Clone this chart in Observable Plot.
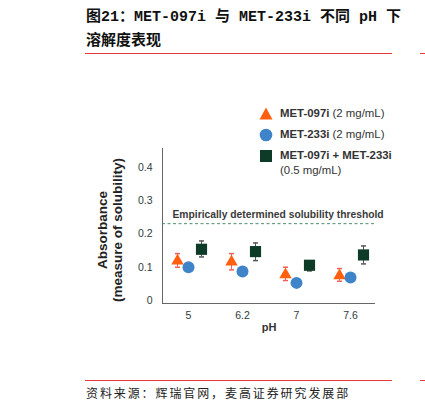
<!DOCTYPE html>
<html>
<head>
<meta charset="utf-8">
<script src="https://cdn.jsdelivr.net/npm/d3@7"></script>
<script src="https://cdn.jsdelivr.net/npm/@observablehq/plot@0.6"></script>
<style>
  body { margin: 0; background: #fff; }
  #page { position: relative; width: 425px; height: 411px; overflow: hidden; font-family: "Liberation Sans", Arial, sans-serif; }
  .title { position: absolute; left: 86px; top: 6px; width: 320px; font-family: "Liberation Mono", "Noto Sans CJK SC", monospace; font-weight: bold; font-size: 15px; line-height: 24px; color: #111; white-space: nowrap; }
  .rule { position: absolute; height: 1px; background: #e8393e; }
  .caption { position: absolute; left: 86px; top: 384px; font-family: "Noto Sans CJK SC", sans-serif; font-size: 12px; letter-spacing: 1.9px; color: #222; white-space: nowrap; }
  #chart { position: absolute; left: 0; top: 100px; }
  .legend { position: absolute; left: 258px; top: 104px; font-size: 11.4px; color: #333; }
  .legend .row { position: relative; height: 21px; line-height: 18px; padding-left: 22px; white-space: nowrap; }
  .legend b { color: #333; }
  .sym { position: absolute; left: 1px; top: 3px; }
</style>
</head>
<body>
<div id="page">
  <div class="title">图21：MET-097i 与 MET-233i 不同 pH 下<br>溶解度表现</div>
  <div class="rule" style="left:85px; top:53px; width:307px;"></div>
  <div class="rule" style="left:420px; top:53px; width:10px;"></div>
  <div id="chart"></div>
  <div class="legend" id="legend"></div>
  <div class="rule" style="left:85px; top:380px; width:307px;"></div>
  <div class="rule" style="left:420px; top:380px; width:10px;"></div>
  <div class="caption">资料来源：辉瑞官网，麦高证券研究发展部</div>
</div>
<script>
const phLevels = ["5", "6.2", "7", "7.6"]
const met097 = [0.119, 0.116, 0.078, 0.075]
const met097Low = [0.100, 0.092, 0.060, 0.058]
const met097High = [0.141, 0.141, 0.100, 0.096]
const met233 = [0.100, 0.087, 0.053, 0.069]
const combo = [0.154, 0.147, 0.106, 0.137]
const comboLow = [0.131, 0.120, 0.089, 0.110]
const comboHigh = [0.179, 0.173, 0.112, 0.164]
const threshold = 0.231
const yTicks = [0, 0.1, 0.2, 0.3, 0.4]

const orange = '#ff5f0f'
const blue = '#3f84c9'
const green = '#0d3b27'

const triRows = phLevels.map((ph, i) => ({ph, v: met097[i], lo: met097Low[i], hi: met097High[i]}))
const circRows = phLevels.map((ph, i) => ({ph, v: met233[i]}))
const sqRows = phLevels.map((ph, i) => ({ph, v: combo[i], lo: comboLow[i], hi: comboHigh[i]}))

// short horizontal cap for the error bars
const cap = {draw(ctx, size) { ctx.moveTo(-2.5, 0); ctx.lineTo(2.5, 0) }}

const dTri = -11, dCirc = 0, dSq = 13

let chart = Plot.plot({
  width: 425,
  height: 240,
  marginLeft: 162,
  marginRight: 50,
  marginTop: 48,
  marginBottom: 37,
  style: {fontFamily: '"Liberation Sans", Arial, sans-serif', fontSize: '10.5px', color: '#2e3d3d'},
  x: {type: 'point', domain: phLevels, padding: 0.44},
  y: {domain: [-0.009, 0.457]},
  marks: [
    Plot.axisY({ticks: yTicks, tickSize: 0, tickPadding: 10, label: null, tickFormat: d => String(d)}),
    Plot.axisX({tickSize: 0, tickPadding: 8, label: null}),
    Plot.ruleY([-0.009], {stroke: '#666'}),
    Plot.frame({anchor: 'left', stroke: '#666'}),
    Plot.ruleY([threshold], {stroke: '#4f8a72', strokeDasharray: '3,2.5'}),
    Plot.text(['Empirically determined solubility threshold'], {frameAnchor: 'left', y: threshold, dx: 10, dy: -9, textAnchor: 'start', fontSize: 10.3, fontWeight: 'bold', fill: '#3a3a3a'}),
    // error bars
    Plot.ruleX(triRows, {x: 'ph', y1: 'lo', y2: 'hi', dx: dTri, stroke: '#f0605a'}),
    Plot.dot(triRows, {x: 'ph', y: 'lo', dx: dTri, symbol: cap, stroke: '#f0605a', r: 3}),
    Plot.dot(triRows, {x: 'ph', y: 'hi', dx: dTri, symbol: cap, stroke: '#f0605a', r: 3}),
    Plot.ruleX(sqRows, {x: 'ph', y1: 'lo', y2: 'hi', dx: dSq, stroke: '#555'}),
    Plot.dot(sqRows, {x: 'ph', y: 'lo', dx: dSq, symbol: cap, stroke: '#555', r: 3}),
    Plot.dot(sqRows, {x: 'ph', y: 'hi', dx: dSq, symbol: cap, stroke: '#555', r: 3}),
    // markers
    Plot.dot(triRows, {x: 'ph', y: 'v', dx: dTri, symbol: 'triangle', r: 4.6, fill: orange, stroke: null}),
    Plot.dot(circRows, {x: 'ph', y: 'v', dx: dCirc, symbol: 'circle', r: 6, fill: blue, stroke: null}),
    Plot.dot(sqRows, {x: 'ph', y: 'v', dx: dSq, symbol: 'square', r: 6.3, fill: green, stroke: null}),
    // axis titles
    Plot.text(['pH'], {frameAnchor: 'bottom', dy: 27, fontSize: 11, fontWeight: 'bold', fill: '#333'}),
    Plot.text(['Absorbance\n(measure of solubility)'], {frameAnchor: 'left', dx: -53, dy: 4, rotate: -90, textAnchor: 'middle', lineAnchor: 'middle', lineHeight: 1.1, fontSize: 13.5, fontWeight: 'bold', fill: '#222'}),
  ],
})

d3.select('#chart').append(() => chart)

const legendItems = [
  {sym: `<svg class="sym" width="14" height="13"><path d="M7 0.5L13.5 12.5H0.5Z" fill="${orange}"/></svg>`, html: '<b>MET-097i</b> (2 mg/mL)'},
  {sym: `<svg class="sym" width="14" height="14"><circle cx="7" cy="7" r="6.3" fill="${blue}"/></svg>`, html: '<b>MET-233i</b> (2 mg/mL)'},
  {sym: `<svg class="sym" width="14" height="14"><rect x="1" y="1" width="12" height="12" fill="${green}"/></svg>`, html: '<b>MET-097i + MET-233i</b><br>(0.5 mg/mL)'},
]
d3.select('#legend').selectAll('div').data(legendItems).join('div')
  .attr('class', 'row')
  .html(d => d.sym + d.html)
  .style('line-height', (d, i) => i === 2 ? '15px' : null)
  .style('padding-top', (d, i) => i === 2 ? '2px' : null)
</script>
</body>
</html>
